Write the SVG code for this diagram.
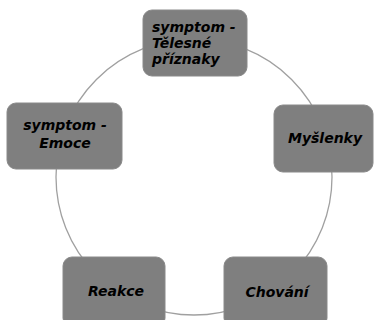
<svg xmlns="http://www.w3.org/2000/svg" width="375" height="320" viewBox="0 0 375 320">
  <style>
    .node rect { fill: #7f7f7f; stroke: #8a8a8a; stroke-width: 1; }
    .node text { font-family: "DejaVu Sans", Verdana, sans-serif; font-size: 14px; font-weight: bold; font-style: italic; fill: #000; }
    .ring { fill: none; stroke: #a0a0a0; stroke-width: 1.3; }
  </style>
  <rect width="375" height="320" fill="#fff"/>
  <!-- connectors: the cycle ring behind the nodes -->
  <g id="connectors">
    <circle class="ring" cx="194" cy="177" r="138"/>
  </g>
  <g id="node-telesne" class="node">
    <rect x="143" y="10" width="104" height="66" rx="9"/>
    <text x="152" y="32">symptom -</text>
    <text x="152" y="48">Tělesné</text>
    <text x="152" y="64">příznaky</text>
  </g>
  <g id="node-myslenky" class="node">
    <rect x="274" y="105" width="99" height="67" rx="9"/>
    <text x="325" y="143" text-anchor="middle">Myšlenky</text>
  </g>
  <g id="node-chovani" class="node">
    <rect x="224" y="257" width="103" height="70" rx="9"/>
    <text x="277" y="297" text-anchor="middle">Chování</text>
  </g>
  <g id="node-reakce" class="node">
    <rect x="63" y="257" width="102" height="70" rx="9"/>
    <text x="116" y="296" text-anchor="middle">Reakce</text>
  </g>
  <g id="node-emoce" class="node">
    <rect x="7" y="103" width="115" height="66" rx="9"/>
    <text x="65" y="130" text-anchor="middle">symptom -</text>
    <text x="65" y="148" text-anchor="middle">Emoce</text>
  </g>
</svg>
